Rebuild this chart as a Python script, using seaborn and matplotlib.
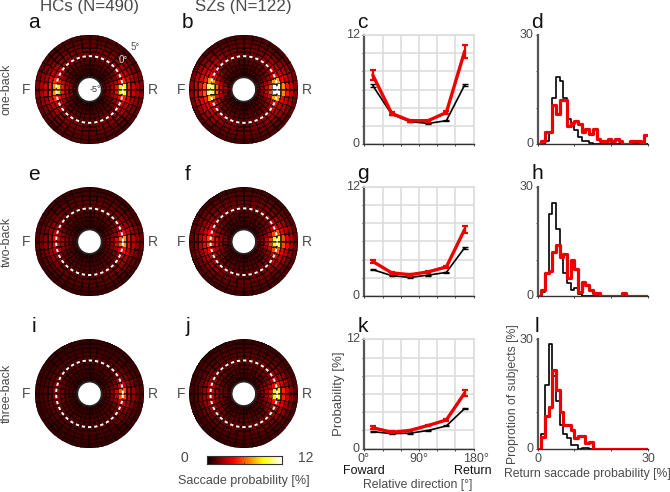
import numpy as np
import matplotlib
matplotlib.use("Agg")
import matplotlib.pyplot as plt
import seaborn as sns

sns.set_theme(style="white")
plt.rcParams['font.family'] = ['Liberation Sans', 'DejaVu Sans']

W, H = 670, 492
TXT = '#4a4a4a'
CELL_LIFT = 0.35  # correction of the colour reading of the cells, in %

# rings inner -> outer, sectors R (0 deg) -> F (180 deg), lower half mirrors upper
map_a = [
 [1.4,1.1,.9,.7,.6,.5,.4,.4,.4,.4,.4,.4,.5,.6,.7,.9,1.1,1.5],
 [1.9,1.4,1.1,.9,.8,.7,.6,.5,.5,.5,.5,.6,.7,.8,.9,1.1,1.5,2.0],
 [2.6,1.9,1.4,1.1,1.0,.9,.8,.7,.7,.7,.7,.8,.9,1.0,1.1,1.4,2.0,2.8],
 [4.0,2.6,1.8,1.5,1.3,1.2,1.0,.9,.9,.9,.9,1.0,1.2,1.3,1.5,1.9,2.8,4.2],
 [8.2,4.0,2.6,2.0,1.7,1.5,1.3,1.2,1.1,1.1,1.2,1.3,1.5,1.7,2.0,2.7,4.2,8.0],
 [8.6,4.5,3.2,2.7,2.4,2.0,1.7,1.5,1.4,1.4,1.5,1.7,2.0,2.4,2.7,3.2,4.8,6.4],
 [4.6,3.3,2.8,2.4,2.1,1.8,1.6,1.5,1.4,1.4,1.5,1.6,1.8,2.1,2.4,2.8,3.4,4.6],
 [3.2,2.5,2.1,1.8,1.6,1.4,1.3,1.2,1.2,1.2,1.2,1.3,1.4,1.6,1.8,2.1,2.5,3.3],
 [2.4,2.0,1.7,1.4,1.2,1.1,1.1,1.0,1.0,1.0,1.0,1.1,1.1,1.2,1.4,1.7,2.0,2.5],
 [1.7,1.4,1.1,.9,.8,.8,.8,.8,.8,.8,.8,.8,.8,.8,.9,1.1,1.4,1.7]]
map_b = [
 [1.6,1.3,1.0,.8,.7,.6,.5,.4,.4,.4,.4,.5,.6,.7,.8,1.0,1.3,1.6],
 [2.2,1.7,1.3,1.0,.9,.8,.7,.6,.5,.5,.6,.7,.8,.9,1.0,1.3,1.8,2.4],
 [3.2,2.2,1.6,1.3,1.1,1.0,.9,.8,.7,.7,.8,.9,1.0,1.1,1.3,1.6,2.4,3.4],
 [5.2,3.2,2.2,1.7,1.4,1.2,1.1,1.0,.9,.9,1.0,1.1,1.2,1.4,1.8,2.4,3.6,6.0],
 [12.,6.8,3.2,2.4,1.9,1.6,1.4,1.2,1.1,1.1,1.2,1.4,1.6,2.0,2.6,3.4,6.5,9.5],
 [12.,7.0,4.0,3.0,2.5,2.1,1.8,1.5,1.4,1.4,1.5,1.8,2.1,2.6,3.3,4.0,6.8,9.8],
 [6.5,3.8,3.0,2.6,2.2,1.9,1.6,1.5,1.4,1.4,1.5,1.7,2.0,2.4,3.0,3.8,4.6,5.5],
 [4.4,3.0,2.5,2.1,1.8,1.5,1.4,1.3,1.2,1.2,1.3,1.4,1.6,2.0,2.4,3.0,3.4,4.2],
 [3.0,2.4,2.0,1.6,1.3,1.2,1.1,1.0,1.0,1.0,1.0,1.1,1.2,1.5,1.8,2.2,2.7,3.2],
 [1.9,1.5,1.2,1.0,.9,.8,.8,.8,.7,.7,.7,.8,.8,.9,1.0,1.2,1.5,1.9]]
map_e = [
 [1.2,1.0,.8,.7,.6,.5,.4,.4,.4,.4,.4,.4,.5,.5,.6,.7,.8,1.0],
 [1.6,1.2,1.0,.8,.7,.6,.6,.5,.5,.5,.5,.5,.6,.6,.7,.8,1.0,1.3],
 [2.2,1.6,1.2,1.0,.9,.8,.7,.7,.6,.6,.7,.7,.7,.8,.9,1.0,1.3,1.8],
 [3.6,2.2,1.6,1.3,1.1,1.0,.9,.8,.8,.8,.8,.8,.9,1.0,1.1,1.3,1.7,2.4],
 [5.6,3.4,2.2,1.7,1.4,1.2,1.1,1.0,.9,.9,1.0,1.0,1.1,1.2,1.4,1.7,2.3,3.2],
 [6.6,3.8,2.6,2.1,1.8,1.5,1.3,1.2,1.1,1.1,1.1,1.2,1.3,1.5,1.8,2.1,2.6,3.6],
 [4.2,3.0,2.3,1.9,1.6,1.4,1.2,1.1,1.0,1.0,1.0,1.1,1.2,1.4,1.6,1.9,2.2,2.6],
 [2.8,2.1,1.7,1.4,1.2,1.1,1.0,.9,.9,.9,.9,.9,1.0,1.1,1.2,1.4,1.6,1.9],
 [1.9,1.6,1.2,1.0,.9,.8,.8,.7,.7,.7,.7,.7,.8,.8,.9,1.0,1.2,1.4],
 [1.2,1.0,.8,.7,.6,.6,.6,.5,.5,.5,.5,.5,.6,.6,.6,.7,.8,1.0]]
map_f = [
 [1.5,1.2,1.0,.8,.7,.6,.5,.5,.4,.4,.5,.5,.6,.6,.7,.9,1.1,1.3],
 [2.0,1.5,1.2,1.0,.9,.8,.7,.6,.6,.6,.6,.7,.7,.8,.9,1.1,1.4,1.7],
 [2.9,2.0,1.5,1.3,1.1,1.0,.9,.8,.8,.8,.8,.9,.9,1.0,1.2,1.4,1.8,2.4],
 [5.0,3.0,2.0,1.6,1.4,1.2,1.1,1.0,1.0,1.0,1.0,1.1,1.2,1.3,1.5,1.9,2.4,3.6],
 [8.4,5.2,2.8,2.0,1.7,1.5,1.3,1.2,1.1,1.1,1.2,1.3,1.4,1.7,2.0,2.5,3.2,4.6],
 [9.0,5.4,3.4,2.6,2.1,1.8,1.6,1.4,1.3,1.3,1.4,1.5,1.8,2.1,2.5,3.0,3.8,5.0],
 [5.4,3.6,2.8,2.3,1.9,1.7,1.5,1.3,1.2,1.2,1.3,1.4,1.6,1.9,2.2,2.6,3.0,3.6],
 [3.6,2.7,2.1,1.8,1.5,1.3,1.2,1.1,1.0,1.0,1.1,1.2,1.3,1.5,1.7,2.0,2.2,2.6],
 [2.5,2.0,1.6,1.3,1.1,1.0,.9,.9,.9,.9,.9,.9,1.0,1.1,1.2,1.4,1.6,1.8],
 [1.5,1.2,1.0,.8,.7,.7,.7,.6,.6,.6,.6,.6,.7,.7,.8,.9,1.0,1.2]]
map_i = [
 [1.0,.8,.7,.6,.5,.4,.4,.4,.4,.4,.4,.4,.4,.4,.5,.5,.6,.7],
 [1.4,1.0,.8,.7,.6,.6,.5,.5,.5,.5,.5,.5,.5,.5,.6,.7,.7,.9],
 [2.0,1.4,1.0,.9,.8,.7,.7,.6,.6,.6,.6,.6,.7,.7,.7,.8,.9,1.1],
 [3.2,2.0,1.4,1.1,1.0,.9,.8,.8,.7,.7,.7,.8,.8,.8,.9,1.0,1.1,1.4],
 [5.6,2.8,1.9,1.4,1.2,1.0,.9,.9,.8,.8,.8,.9,.9,1.0,1.0,1.2,1.4,1.7],
 [5.4,3.0,2.0,1.6,1.3,1.1,1.0,.9,.8,.8,.8,.9,1.0,1.0,1.1,1.3,1.5,1.8],
 [3.0,2.2,1.6,1.3,1.1,.9,.8,.7,.7,.7,.7,.7,.8,.8,.9,1.0,1.1,1.3],
 [2.0,1.5,1.2,1.0,.8,.7,.6,.6,.6,.6,.6,.6,.6,.6,.7,.7,.8,.9],
 [1.3,1.0,.8,.7,.6,.6,.5,.5,.5,.5,.5,.5,.5,.5,.5,.6,.6,.7],
 [.8,.7,.6,.5,.5,.4,.4,.4,.4,.4,.4,.4,.4,.4,.4,.4,.5,.5]]
map_j = [
 [1.3,1.1,.9,.8,.7,.6,.5,.5,.5,.5,.5,.5,.5,.6,.6,.7,.8,1.0],
 [1.8,1.4,1.1,1.0,.9,.8,.7,.7,.7,.6,.6,.7,.7,.8,.8,.9,1.1,1.3],
 [2.6,1.8,1.5,1.2,1.1,1.0,.9,.9,.8,.8,.8,.9,.9,1.0,1.1,1.2,1.4,1.7],
 [4.0,2.6,1.9,1.6,1.4,1.2,1.1,1.1,1.0,1.0,1.0,1.1,1.1,1.2,1.4,1.6,1.8,2.3],
 [8.2,4.0,2.6,2.0,1.7,1.5,1.3,1.2,1.2,1.1,1.2,1.2,1.3,1.5,1.7,2.0,2.4,2.9],
 [8.6,4.4,2.9,2.2,1.9,1.6,1.4,1.3,1.2,1.2,1.2,1.3,1.4,1.6,1.8,2.1,2.5,2.9],
 [4.6,3.3,2.4,1.9,1.6,1.3,1.2,1.1,1.0,1.0,1.0,1.1,1.2,1.3,1.5,1.7,1.9,2.1],
 [3.0,2.3,1.8,1.4,1.2,1.0,.9,.9,.8,.8,.8,.9,.9,1.0,1.1,1.2,1.3,1.4],
 [1.9,1.5,1.2,1.0,.9,.8,.7,.7,.7,.6,.6,.7,.7,.7,.8,.8,.8,.9],
 [1.1,.9,.8,.7,.6,.6,.5,.5,.5,.5,.5,.4,.4,.4,.5,.5,.5,.6]]

# relative direction curves
directions = [14, 45, 75, 105, 135, 165]
c_hc = [6.45, 3.3, 2.5, 2.3, 2.6, 6.5]
c_sz = [7.6, 3.4, 2.6, 2.6, 3.5, 10.2]
c_hc_err = [.15, .1, .05, .05, .05, .1]
c_sz_err = [.55, .15, .1, .1, .15, .7]
g_hc = [2.9, 2.25, 2.05, 2.3, 2.6, 5.3]
g_sz = [3.8, 2.55, 2.35, 2.65, 3.2, 7.3]
g_hc_err = [.05, .05, .05, .05, .05, .1]
g_sz_err = [.15, .1, .1, .1, .15, .4]
k_hc = [1.87, 1.65, 1.7, 2.0, 2.5, 4.4]
k_sz = [2.3, 1.8, 2.0, 2.55, 3.15, 6.1]
k_hc_err = [.05, .05, .05, .05, .05, .1]
k_sz_err = [.15, .1, .1, .1, .15, .35]

# histograms, 1 % bins from 0 to 30
bin_left = list(range(30))
d_hc = [0,.2,1,3,12.8,18.5,17.3,12.8,7,6,4,2,1,.8,.4,.2,.1,0,.1,.2,.3,.1,0,0,0,0,0,.2,0,0]
d_sz = [0,.8,3.3,3.3,10.8,8.2,12.3,12.3,5,6,6.5,5.5,3.3,4.3,2.8,4.3,1.5,.8,.8,1.6,.8,1.6,.8,0,0,.8,.8,.8,0,2.5]
h_hc = [.1,1,6,22.5,25.5,18.4,10.9,6.4,3.6,1.8,2.3,.5,0,0,.1,.1,0,0,0,0,0,0,0,0,0,0,0,0,0,0]
h_sz = [0,1.8,6.3,7,12,14,10.7,11.5,5,9.8,7.5,1,4,3,1.7,.8,.8,0,0,0,0,0,0,.8,0,0,0,0,0,0]
l_hc = [0,4,17.5,28.8,20,13,6.5,4,3,1,1,0,.3,.2,0,0,0,0,0,0,0,0,0,0,0,0,0,0,0,0]
l_sz = [0,3.3,9,11.5,21.5,16,10,6.5,6.5,5,3,3.5,3.5,1.5,1.8,0,0,0,0,0,0,0,0,0,0,0,0,0,0,0]

row_names = ['one-back', 'two-back', 'three-back']
map_rows = [(map_a, map_b), (map_e, map_f), (map_i, map_j)]
map_letters = [('a', 'b'), ('e', 'f'), ('i', 'j')]
line_rows = [(c_hc, c_sz, c_hc_err, c_sz_err), (g_hc, g_sz, g_hc_err, g_sz_err), (k_hc, k_sz, k_hc_err, k_sz_err)]
hist_rows = [(d_hc, d_sz), (h_hc, h_sz), (l_hc, l_sz)]
side_letters = [('c', 'd'), ('g', 'h'), ('k', 'l')]

fig = plt.figure(figsize=(W / 100, H / 100), dpi=100)


def box(l, t, r, b):
    return [l / W, 1 - b / H, (r - l) / W, (b - t) / H]


def label(x, y, s, **kw):
    kw.setdefault('ha', 'center')
    kw.setdefault('va', 'center')
    kw.setdefault('color', TXT)
    kw.setdefault('fontsize', 9)
    kw.setdefault('zorder', 10)
    fig.text(x / W, 1 - y / H, s, **kw)


def polar_map(cx, cy, values):
    ax = fig.add_axes(box(cx - 54.5, cy - 54.5, cx + 54.5, cy + 54.5), projection='polar')
    m = np.asarray(values) + CELL_LIFT
    m = np.hstack([m, m[:, ::-1]])
    theta = np.deg2rad(np.arange(0, 361, 10))
    r = np.arange(-5, 6)
    ax.pcolormesh(theta, r, m, cmap='hot', vmin=0, vmax=12, edgecolors=(0.08, 0, 0, 0.6), linewidth=0.2)
    t = np.linspace(0, 2 * np.pi, 361)
    ax.plot(t, np.zeros_like(t), color='white', lw=1.4, dashes=(1.7, 1.5))
    ax.set_rorigin(-7.88)
    ax.set_rlim(-5, 5)
    ax.set_xticks([])
    ax.set_yticks([])
    ax.grid(False)
    ax.spines['polar'].set_visible(False)
    ax.patch.set_alpha(0)
    return ax


map_centers_x = [89.5, 243.8]
row_cy = [89.5, 241.7, 393.8]
for i, cy in enumerate(row_cy):
    for j, cx in enumerate(map_centers_x):
        polar_map(cx, cy, map_rows[i][j])
        label(cx - 63, cy, 'F', fontsize=10)
        label(cx + 63.5, cy, 'R', fontsize=10)
        label(cx - 56, cy - 67.5, map_letters[i][j], fontsize=15, color='#111111')
    label(7, cy, row_names[i], rotation=90, fontsize=9)

label(89, 7, 'HCs (N=490)', fontsize=12.2)
label(243.5, 7, 'SZs (N=122)', fontsize=12.2)
label(95.5, 90, '-5°', fontsize=6.5, color='#333333')
label(123, 60, '0°', fontsize=7, color='#dddddd')
label(135.5, 47.5, '5°', fontsize=7, color='#555555')

line_tops = [35, 186.7, 339.3]
for i, top in enumerate(line_tops):
    bottom = top + 109.4
    # direction panel
    ax = fig.add_axes(box(364.3, top, 473.7, bottom))
    hc, sz, hc_e, sz_e = line_rows[i]
    sns.lineplot(x=directions, y=hc, color='black', lw=1.2, ax=ax, zorder=3)
    ax.errorbar(directions, hc, yerr=hc_e, fmt='none', ecolor='black', elinewidth=1, capsize=2, capthick=1, zorder=3)
    sns.lineplot(x=directions, y=sz, color='#ee0000', lw=2.4, ax=ax, zorder=4)
    ax.errorbar(directions, sz, yerr=sz_e, fmt='none', ecolor='#ee0000', elinewidth=1.6, capsize=2.5, capthick=1.6, zorder=4)
    ax.set_xlim(0, 180)
    ax.set_ylim(0, 12)
    ax.set_xticks(range(0, 181, 30))
    ax.set_yticks(range(0, 13, 2))
    ax.grid(True, color='#dddddd', lw=1.2)
    ax.set_axisbelow(True)
    ax.set_xticklabels([])
    ax.set_yticklabels([])
    ax.tick_params(axis='both', direction='out', length=1.5, width=0.7, color='#444444', bottom=True, left=True)
    for s in ['top', 'right']:
        ax.spines[s].set_color('#dddddd')
        ax.spines[s].set_linewidth(1.2)
    ax.spines['left'].set_color('#555555')
    ax.spines['left'].set_linewidth(1.6)
    ax.spines['bottom'].set_color('#333333')
    ax.spines['bottom'].set_linewidth(1.0)
    label(353, top, '12', fontsize=9)
    label(356, bottom, '0', fontsize=9)
    label(362.5, top - 13, side_letters[i][0], fontsize=15, color='#111111')

    # histogram panel
    ax = fig.add_axes(box(537.7, top, 648, bottom))
    hc_h, sz_h = hist_rows[i]
    sns.histplot(x=bin_left, weights=hc_h, bins=range(31), element='step', fill=False,
                 color='black', lw=1.2, ax=ax, zorder=3)
    sns.histplot(x=bin_left, weights=sz_h, bins=range(31), element='step', fill=False,
                 color='#ee0000', lw=2.3, ax=ax, zorder=4)
    ax.set_xlim(0, 30)
    ax.set_ylim(0, 30)
    ax.set_ylabel('')
    ax.set_xticks([0, 10, 20, 30])
    ax.set_yticks([0, 10, 20, 30])
    ax.set_xticklabels([])
    ax.set_yticklabels([])
    ax.tick_params(axis='both', direction='out', length=1.5, width=0.7, color='#444444', bottom=True, left=True)
    sns.despine(ax=ax)
    ax.spines['left'].set_color('#555555')
    ax.spines['left'].set_linewidth(1.6)
    ax.spines['bottom'].set_color('#333333')
    ax.spines['bottom'].set_linewidth(1.0)
    label(527, top + 0.5, '30', fontsize=9)
    label(530, bottom, '0', fontsize=9)
    label(537, top - 13, side_letters[i][1], fontsize=15, color='#111111')

# shared axis text
label(364, 459, '0°', fontsize=9)
label(419, 459, '90°', fontsize=9)
label(476, 459, '180°', fontsize=9)
label(364, 470.5, 'Foward', fontsize=9, color='#111111')
label(473, 470.5, 'Return', fontsize=9, color='#111111')
label(418, 485, 'Relative direction [°]', fontsize=8.8)
label(339, 393.5, 'Probability [%]', rotation=90, fontsize=9.5)
label(513, 394, 'Proprotion of subjects [%]', rotation=90, fontsize=8.8)
label(538, 459, '0', fontsize=9)
label(648, 459, '30', fontsize=9)
label(587, 474, 'Return saccade probability [%]', fontsize=8.8)

# colour bar
cax = fig.add_axes(box(206.7, 456, 281.7, 464.3))
cax.imshow(np.linspace(0, 1, 256)[None, :], cmap='hot', aspect='auto', extent=[0, 12, 0, 1])
cax.set_yticks([])
cax.set_xticks([6])
cax.set_xticklabels([])
cax.tick_params(axis='x', direction='in', length=1.5, width=0.6, color='#444444', bottom=True)
for s in cax.spines.values():
    s.set_visible(True)
    s.set_color('#333333')
    s.set_linewidth(0.8)
label(184, 457.5, '0', fontsize=10)
label(306, 457.5, '12', fontsize=10)
label(244, 481, 'Saccade probability [%]', fontsize=9)

fig.savefig('out.png', dpi=100, facecolor='white')
